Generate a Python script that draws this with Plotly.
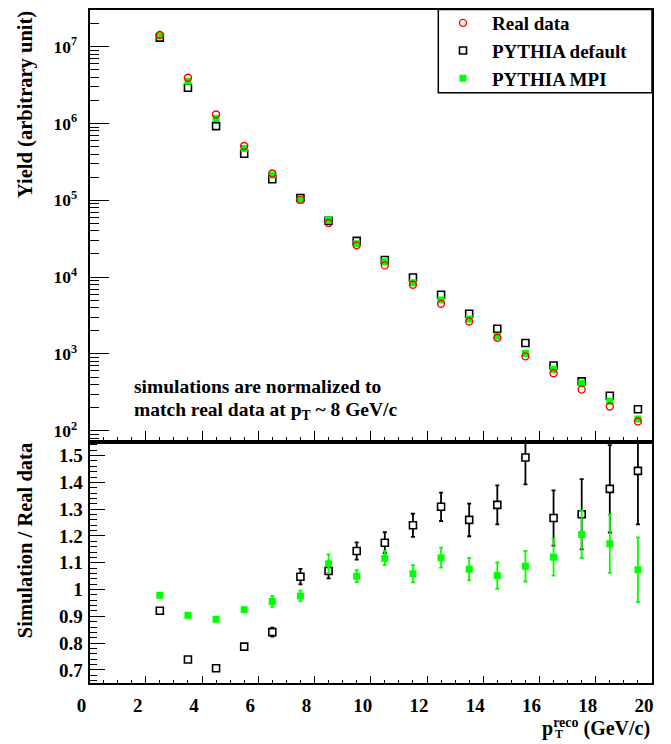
import plotly.graph_objects as go

W, H = 671, 744

# ---------------- data ----------------
pt = [2.5, 3.5, 4.5, 5.5, 6.5, 7.5, 8.5, 9.5, 10.5, 11.5, 12.5, 13.5, 14.5, 15.5, 16.5, 17.5, 18.5, 19.5]
yield_real = [1.42e7, 3.94e6, 1.31e6, 5.1e5, 2.23e5, 1.02e5, 5.06e4, 2.59e4, 1.42e4, 7.96e3, 4.5e3,
              2.64e3, 1.62e3, 930, 559, 343, 207, 132]
yield_default = [1.31e7, 2.92e6, 9.25e5, 4.03e5, 1.88e5, 1.07e5, 5.41e4, 2.96e4, 1.67e4, 9.87e3, 5.89e3,
                 3.33e3, 2.13e3, 1389, 708, 439, 285, 190]
yield_mpi = [1.39e7, 3.56e6, 1.165e6, 4.72e5, 2.13e5, 9.96e4, 5.55e4, 2.72e4, 1.59e4, 8.43e3, 5.04e3,
             2.84e3, 1.70e3, 1011, 627, 414, 242, 142]
ratio_default = [0.921, 0.739, 0.706, 0.787, 0.841, 1.048, 1.069, 1.144, 1.175, 1.24, 1.309, 1.26,
                 1.316, 1.493, 1.267, 1.281, 1.376, 1.443]
ratio_default_err = [0.005, 0.005, 0.005, 0.008, 0.017, 0.029, 0.027, 0.032, 0.039, 0.043, 0.053, 0.061,
                     0.073, 0.1, 0.103, 0.131, 0.163, 0.2]
ratio_mpi = [0.979, 0.904, 0.889, 0.925, 0.955, 0.976, 1.096, 1.05, 1.117, 1.059, 1.119, 1.076,
             1.052, 1.087, 1.121, 1.206, 1.171, 1.074]
ratio_mpi_err = [0.004, 0.004, 0.005, 0.007, 0.02, 0.02, 0.035, 0.022, 0.026, 0.032, 0.0375, 0.042,
                 0.049, 0.057, 0.069, 0.089, 0.109, 0.121]

series_names = ["Real data", "PYTHIA default", "PYTHIA MPI"]
x_tick_vals = [0, 2, 4, 6, 8, 10, 12, 14, 16, 18, 20]
x_tick_text = ["0", "2", "4", "6", "8", "10", "12", "14", "16", "18", "20"]
yield_tick_vals = [1e2, 1e3, 1e4, 1e5, 1e6, 1e7]
yield_tick_text = ["10<sup>2</sup>", "10<sup>3</sup>", "10<sup>4</sup>", "10<sup>5</sup>",
                   "10<sup>6</sup>", "10<sup>7</sup>"]
ratio_tick_vals = [0.7, 0.8, 0.9, 1.0, 1.1, 1.2, 1.3, 1.4, 1.5]
ratio_tick_text = ["0.7", "0.8", "0.9", "1", "1.1", "1.2", "1.3", "1.4", "1.5"]

# ---------------- style ----------------
FONT = "Liberation Serif"
GREEN = "#00ff00"
RED = "#ff0000"


def fx(px):
    return px / W


def fy(py):
    return 1 - py / H


LEFT, RIGHT = 89.5, 652
TOP, MID, BOT = 9.5, 441.7, 683.3

fig = go.Figure()

# top panel (draw order: default, MPI, real)
fig.add_trace(go.Scatter(
    x=pt, y=yield_default, mode="markers", name=series_names[1], legendrank=2,
    legendgroup="b",
    marker=dict(symbol="square-open", size=7, color="black", line=dict(width=1.6, color="black")),
    xaxis="x", yaxis="y"))
fig.add_trace(go.Scatter(
    x=pt, y=yield_mpi, mode="markers", name=series_names[2], legendrank=3,
    legendgroup="c",
    marker=dict(symbol="square", size=7, color=GREEN, line=dict(width=0)),
    xaxis="x", yaxis="y"))
fig.add_trace(go.Scatter(
    x=pt, y=yield_real, mode="markers", name=series_names[0], legendrank=1,
    legendgroup="a",
    marker=dict(symbol="circle-open", size=7, color=RED, line=dict(width=1.4, color=RED)),
    xaxis="x", yaxis="y"))

# bottom panel
fig.add_trace(go.Scatter(
    x=pt, y=ratio_default, mode="markers", showlegend=False,
    marker=dict(symbol="square", size=7, color="white", line=dict(width=1.6, color="black")),
    error_y=dict(type="data", array=ratio_default_err, color="black", thickness=1.8, width=2),
    xaxis="x2", yaxis="y2"))
fig.add_trace(go.Scatter(
    x=pt, y=ratio_mpi, mode="markers", showlegend=False,
    marker=dict(symbol="square", size=7, color=GREEN, line=dict(width=0)),
    error_y=dict(type="data", array=ratio_mpi_err, color=GREEN, thickness=1.8, width=2),
    xaxis="x2", yaxis="y2"))

axis_common = dict(showline=True, linecolor="black", linewidth=1.8, mirror=True,
                   showgrid=False, zeroline=False, ticks="inside", tickcolor="black",
                   tickwidth=1.2, automargin=False)
lab_font = dict(family=FONT, size=19, color="black", weight="bold")

fig.update_layout(
    width=W, height=H,
    margin=dict(l=0, r=0, t=0, b=0, autoexpand=False),
    paper_bgcolor="white", plot_bgcolor="white",
    font=dict(family=FONT, color="black"),
    showlegend=True,
    xaxis=dict(**axis_common, domain=[fx(LEFT), fx(RIGHT)], range=[0, 20], anchor="y",
               tickvals=x_tick_vals, showticklabels=False, ticklen=10.5,
               minor=dict(dtick=0.5, tick0=0, ticklen=5, ticks="inside", tickcolor="black", tickwidth=1.2)),
    yaxis=dict(**axis_common, type="log", domain=[fy(MID), fy(TOP)], range=[1.857, 7.484], anchor="x",
               tickvals=yield_tick_vals, ticktext=yield_tick_text, ticklen=20,
               tickfont=dict(family=FONT, size=17.5, color="black", weight="bold"),
               ticklabelstandoff=7,
               minor=dict(dtick="D1", ticklen=10, ticks="inside", tickcolor="black", tickwidth=1.2)),
    xaxis2=dict(**axis_common, domain=[fx(LEFT), fx(RIGHT)], range=[0, 20], anchor="y2",
                tickvals=x_tick_vals, ticktext=x_tick_text, ticklen=7,
                tickfont=lab_font, ticklabelstandoff=4, ticklabelshift=-8,
                minor=dict(dtick=0.5, tick0=0, ticklen=3.5, ticks="inside", tickcolor="black", tickwidth=1.2)),
    yaxis2=dict(**axis_common, domain=[fy(BOT), fy(MID)], range=[0.65, 1.552], anchor="x2",
                tickvals=ratio_tick_vals, ticktext=ratio_tick_text, ticklen=16,
                tickfont=dict(family=FONT, size=19, color="black", weight="bold"),
                ticklabelstandoff=1,
                minor=dict(dtick=0.02, tick0=0.7, ticklen=7.3, ticks="inside", tickcolor="black", tickwidth=1.2)),
    legend=dict(x=fx(434), y=fy(4), xanchor="left", yanchor="top",
                bgcolor="rgba(0,0,0,0)", borderwidth=0,
                font=dict(family=FONT, size=19, color="black", weight="bold"),
                tracegroupgap=0, itemwidth=48),
)

# legend frame
fig.add_shape(type="rect", xref="paper", yref="paper",
              x0=fx(438.3), x1=fx(RIGHT), y0=fy(92.7), y1=fy(TOP),
              line=dict(color="black", width=1.5), fillcolor="white", layer="below")

ann_font = dict(family=FONT, size=19.5, color="black", weight="bold")
title_font = dict(family=FONT, size=20.5, color="black", weight="bold")

fig.add_annotation(text="Yield (arbitrary unit)", textangle=-90, xref="paper", yref="paper",
                   x=fx(25), y=fy(TOP), xanchor="center", yanchor="top", showarrow=False,
                   font=title_font)
fig.add_annotation(text="Simulation / Real data", textangle=-90, xref="paper", yref="paper",
                   x=fx(25), y=fy(MID), xanchor="center", yanchor="top", showarrow=False,
                   font=title_font)
fig.add_annotation(text="simulations are normalized to", xref="paper", yref="paper",
                   x=fx(131.7), y=fy(386.7), xanchor="left", yanchor="middle", showarrow=False,
                   font=ann_font)
fig.add_annotation(text="match real data at p<sub>T</sub> ~ 8 GeV/c", xref="paper", yref="paper",
                   x=fx(131.7), y=fy(408.3), xanchor="left", yanchor="top", yshift=11, showarrow=False,
                   font=ann_font)
fig.add_annotation(text="p<sup>reco</sup> (GeV/c)", xref="paper", yref="paper",
                   x=fx(651.7), y=fy(727), xanchor="right", yanchor="middle", showarrow=False,
                   font=dict(family=FONT, size=20, color="black", weight="bold"))
fig.add_annotation(text="T", xref="paper", yref="paper",
                   x=fx(552.7), y=fy(743), xanchor="left", yanchor="bottom", showarrow=False,
                   font=dict(family=FONT, size=12, color="black", weight="bold"))

fig.write_html("out.html")
